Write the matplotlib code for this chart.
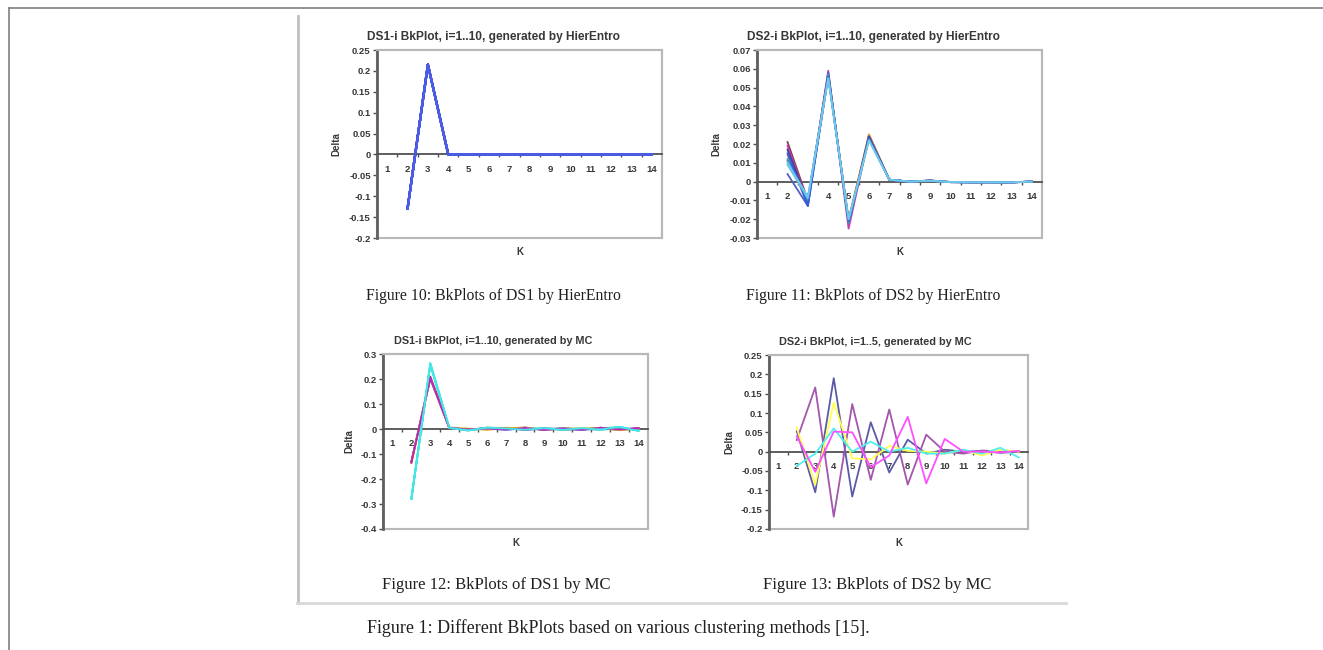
import numpy as np
import matplotlib
matplotlib.use("Agg")
import matplotlib.pyplot as plt
from matplotlib.lines import Line2D

# ---------------- data ----------------
K = [2, 3, 4, 5, 6, 7, 8, 9, 10, 11, 12, 13, 14]
cat_labels = [str(i) for i in range(1, 15)]

# Fig 10: DS1 by HierEntro (10 identical series)
ds1_hier = [-0.13, 0.215, 0.0, 0.0, 0.0, 0.0, 0.0, 0.0, 0.0, 0.0, 0.0, 0.0, 0.0]
ds1_hier_colors = ['#2030c0', '#3040d0', '#3848d8', '#4050e0', '#4858e0',
                   '#4050dc', '#3c50e0', '#4454e0', '#4858e4', '#4c5ce4']

# Fig 11: DS2 by HierEntro (10 series)
ds2_h1 = [0.021, -0.010, 0.057, -0.021, 0.025, 0.001, 0.000, 0.0006, -0.0002, -0.0004, -0.0004, -0.0004, 0.0000]
ds2_h2 = [0.019, -0.011, 0.059, -0.025, 0.024, 0.001, 0.000, 0.0005, -0.0003, -0.0003, -0.0003, -0.0005, 0.0000]
ds2_h3 = [0.014, -0.012, 0.056, -0.020, 0.025, 0.001, 0.000, 0.0004, -0.0002, -0.0004, -0.0003, -0.0004, 0.0002]
ds2_h4 = [0.004, -0.013, 0.058, -0.022, 0.024, 0.001, 0.000, 0.0005, -0.0003, -0.0004, -0.0004, -0.0004, 0.0001]
ds2_h5 = [0.011, -0.009, 0.057, -0.021, 0.023, 0.001, 0.000, 0.0006, -0.0002, -0.0003, -0.0003, -0.0005, 0.0000]
ds2_h6 = [0.017, -0.011, 0.056, -0.021, 0.024, 0.001, 0.000, 0.0005, -0.0003, -0.0004, -0.0004, -0.0004, 0.0000]
ds2_h7 = [0.012, -0.010, 0.057, -0.022, 0.023, 0.001, 0.000, 0.0004, -0.0002, -0.0003, -0.0004, -0.0004, 0.0000]
ds2_h8 = [0.015, -0.013, 0.056, -0.021, 0.023, 0.001, 0.000, 0.0005, -0.0003, -0.0004, -0.0003, -0.0004, 0.0000]
ds2_h9 = [0.009, -0.009, 0.055, -0.020, 0.022, 0.001, 0.000, 0.0005, -0.0003, -0.0004, -0.0004, -0.0004, 0.0000]
ds2_h10 = [0.010, -0.008, 0.055, -0.020, 0.022, 0.001, 0.000, 0.0004, -0.0002, -0.0003, -0.0003, -0.0004, 0.0000]
ds2_hier = [ds2_h1, ds2_h2, ds2_h3, ds2_h4, ds2_h5, ds2_h6, ds2_h7, ds2_h8, ds2_h9, ds2_h10]
ds2_hier_colors = ['#8b3a50', '#c040b0', '#e0a040', '#5060c0', '#8050a0',
                   '#404090', '#40a0b0', '#3060e0', '#60c0e8', '#70c8ec']

# Fig 12: DS1 by MC (10 series)
ds1_m1 = [-0.13, 0.20, 0.005, -0.003, 0.004, -0.002, 0.006, -0.004, 0.002, -0.003, 0.005, -0.004, 0.002]
ds1_m2 = [-0.28, 0.26, 0.004, -0.006, 0.006, 0.003, -0.002, 0.002, -0.004, 0.001, -0.003, 0.008, -0.006]
ds1_m3 = [-0.135, 0.205, 0.006, 0.002, -0.004, 0.005, 0.003, -0.003, 0.004, -0.002, 0.003, -0.005, 0.003]
ds1_m4 = [-0.275, 0.255, 0.005, -0.005, 0.002, -0.003, 0.002, 0.004, -0.002, 0.003, -0.004, 0.004, -0.004]
ds1_m5 = [-0.13, 0.21, 0.004, -0.002, 0.003, 0.004, -0.004, 0.002, 0.000, -0.003, 0.002, -0.002, 0.004]
ds1_m6 = [-0.28, 0.26, 0.006, -0.004, 0.003, -0.002, 0.004, -0.002, 0.003, -0.002, 0.004, 0.006, -0.005]
ds1_m7 = [-0.135, 0.205, 0.005, -0.003, 0.002, 0.003, 0.006, -0.003, 0.002, 0.002, 0.005, -0.003, 0.002]
ds1_m8 = [-0.28, 0.265, 0.005, -0.006, 0.005, -0.003, 0.002, -0.002, 0.002, -0.002, 0.001, 0.009, -0.007]
ds1_m9 = [-0.135, 0.205, 0.004, -0.002, 0.002, -0.003, 0.004, -0.004, 0.003, -0.003, 0.005, -0.002, 0.003]
ds1_m10 = [-0.28, 0.26, 0.004, -0.005, 0.005, 0.002, -0.003, 0.003, -0.003, 0.003, -0.002, 0.008, -0.008]
ds1_mc = [ds1_m1, ds1_m2, ds1_m3, ds1_m4, ds1_m5, ds1_m6, ds1_m7, ds1_m8, ds1_m9, ds1_m10]
ds1_mc_colors = ['#303090', '#40a0a0', '#e0c030', '#60e0e0', '#8030a0',
                 '#30d8d8', '#d8b020', '#50f0e8', '#c020c0', '#40e8e8']

# Fig 13: DS2 by MC (5 series)
ds2_m1 = [0.053, -0.105, 0.190, -0.116, 0.076, -0.054, 0.031, -0.005, 0.005, 0.000, 0.002, -0.003, 0.000]
ds2_m2 = [0.030, 0.166, -0.168, 0.123, -0.073, 0.109, -0.085, 0.044, 0.000, -0.005, 0.003, 0.000, 0.002]
ds2_m3 = [0.062, -0.085, 0.127, -0.017, -0.020, 0.015, 0.002, 0.000, -0.005, 0.005, -0.010, 0.005, 0.000]
ds2_m4 = [-0.037, -0.005, 0.060, 0.000, 0.026, 0.000, 0.010, -0.005, -0.005, 0.005, -0.005, 0.010, -0.015]
ds2_m5 = [0.040, -0.052, 0.052, 0.050, -0.040, -0.010, 0.090, -0.082, 0.033, 0.000, 0.000, -0.002, 0.002]
ds2_mc = [ds2_m1, ds2_m2, ds2_m3, ds2_m4, ds2_m5]
ds2_mc_colors = ['#5a5aa8', '#a456ac', '#ffff50', '#50f0f0', '#ff50ff']

# ---------------- figure ----------------
W, H = 1323, 650
fig = plt.figure(figsize=(W / 100, H / 100), dpi=100)
fig.patch.set_facecolor('white')

SANS = 'Liberation Sans'
SERIF = 'Liberation Serif'
TXT = '#383838'


def ax_at(l, t, r, b):
    return fig.add_axes([l / W, 1 - b / H, (r - l) / W, (b - t) / H])


def style(ax, ylim, yticks, ylabels, title, tsize, title_x, ylab_x, xlab_y):
    ax.set_xlim(0.5, 14.5)
    ax.set_ylim(*ylim)
    ax.spines['bottom'].set_position(('data', 0))
    ax.spines['bottom'].set_color('#505050')
    ax.spines['bottom'].set_linewidth(1.3)
    ax.spines['left'].set_color('#606060')
    ax.spines['left'].set_linewidth(2.0)
    for s in ('top', 'right'):
        ax.spines[s].set_color('#b8b8b8')
        ax.spines[s].set_linewidth(1.5)
    ax.patch.set_edgecolor('#b8b8b8')
    ax.patch.set_linewidth(1.5)
    ax.set_xticks(range(1, 15))
    ax.set_xticklabels(cat_labels, fontfamily=SANS, fontsize=6.8,
                       fontweight='bold', color=TXT)
    ax.set_xticks(np.arange(1.5, 14.0, 1.0), minor=True)
    ax.tick_params(axis='x', which='major', length=0, pad=7.5)
    ax.tick_params(axis='x', which='minor', length=2.5, direction='out',
                   color='#505050', width=1)
    ax.set_yticks(yticks)
    ax.set_yticklabels(ylabels, fontfamily=SANS, fontsize=6.8,
                       fontweight='bold', color=TXT)
    ax.tick_params(axis='y', length=3, direction='out', pad=1.5,
                   color='#505050', width=1)
    ax.set_title(title, fontfamily=SANS, fontsize=tsize, fontweight='bold',
                 color=TXT, pad=7, x=title_x)
    ax.set_ylabel('Delta', fontfamily=SANS, fontsize=7, fontweight='bold',
                  color=TXT)
    ax.yaxis.set_label_coords(ylab_x, 0.5)
    ax.set_xlabel('K', fontfamily=SANS, fontsize=7, fontweight='bold',
                  color=TXT)
    ax.xaxis.set_label_coords(0.5, xlab_y)


# Fig 10
ax1 = ax_at(377, 50, 662, 238)
for c in ds1_hier_colors:
    ax1.plot(K, ds1_hier, color=c, lw=1.6, zorder=3)
style(ax1, (-0.2, 0.25), np.arange(-0.2, 0.2501, 0.05),
      ['-0.2', '-0.15', '-0.1', '-0.05', '0', '0.05', '0.1', '0.15', '0.2', '0.25'],
      'DS1-i BkPlot, i=1..10, generated by HierEntro', 8.6, 0.407, -0.126, -0.05)

# Fig 11
ax2 = ax_at(757, 50, 1042, 238)
for s, c in zip(ds2_hier, ds2_hier_colors):
    ax2.plot(K, s, color=c, lw=1.3, zorder=3)
style(ax2, (-0.03, 0.07), np.arange(-0.03, 0.0701, 0.01),
      ['-0.03', '-0.02', '-0.01', '0', '0.01', '0.02', '0.03', '0.04', '0.05', '0.06', '0.07'],
      'DS2-i BkPlot, i=1..10, generated by HierEntro', 8.6, 0.407, -0.126, -0.05)

# Fig 12
ax3 = ax_at(383, 354, 648, 529)
for s, c in zip(ds1_mc, ds1_mc_colors):
    ax3.plot(K, s, color=c, lw=1.3, zorder=3)
style(ax3, (-0.4, 0.3), np.arange(-0.4, 0.301, 0.1),
      ['-0.4', '-0.3', '-0.2', '-0.1', '0', '0.1', '0.2', '0.3'],
      'DS1-i BkPlot, i=1..10, generated by MC', 7.8, 0.415, -0.109, -0.05)

# Fig 13
ax4 = ax_at(769, 355, 1028, 529)
for s, c in zip(ds2_mc, ds2_mc_colors):
    ax4.plot(K, s, color=c, lw=1.3, zorder=3)
style(ax4, (-0.2, 0.25), np.arange(-0.2, 0.2501, 0.05),
      ['-0.2', '-0.15', '-0.1', '-0.05', '0', '0.05', '0.1', '0.15', '0.2', '0.25'],
      'DS2-i BkPlot, i=1..5, generated by MC', 7.8, 0.409, -0.135, -0.05)

# captions
def ftext(x, y, s, size):
    fig.text(x / W, 1 - y / H, s, ha='center', va='center',
             fontfamily=SERIF, fontsize=size, color='#202020')

ftext(493, 296, 'Figure 10: BkPlots of DS1 by HierEntro', 11.3)
ftext(873, 296, 'Figure 11: BkPlots of DS2 by HierEntro', 11.3)
ftext(496, 585, 'Figure 12: BkPlots of DS1 by MC', 12)
ftext(877, 585, 'Figure 13: BkPlots of DS2 by MC', 12)
ftext(618, 628, 'Figure 1: Different BkPlots based on various clustering methods [15].', 13)

# page frame lines
def fline(x0, y0, x1, y1, color, lw):
    fig.add_artist(Line2D([x0 / W, x1 / W], [1 - y0 / H, 1 - y1 / H],
                          transform=fig.transFigure, color=color, lw=lw))

fline(9, 8, 1323, 8, '#808080', 1.2)
fline(9, 8, 9, 650, '#808080', 1.2)
fline(297.5, 16, 297.5, 603, '#c0c0c0', 2.0)
fline(297, 602.5, 1066, 602.5, '#d8d8d8', 2.0)

fig.savefig('out.png', dpi=100, facecolor='white')
